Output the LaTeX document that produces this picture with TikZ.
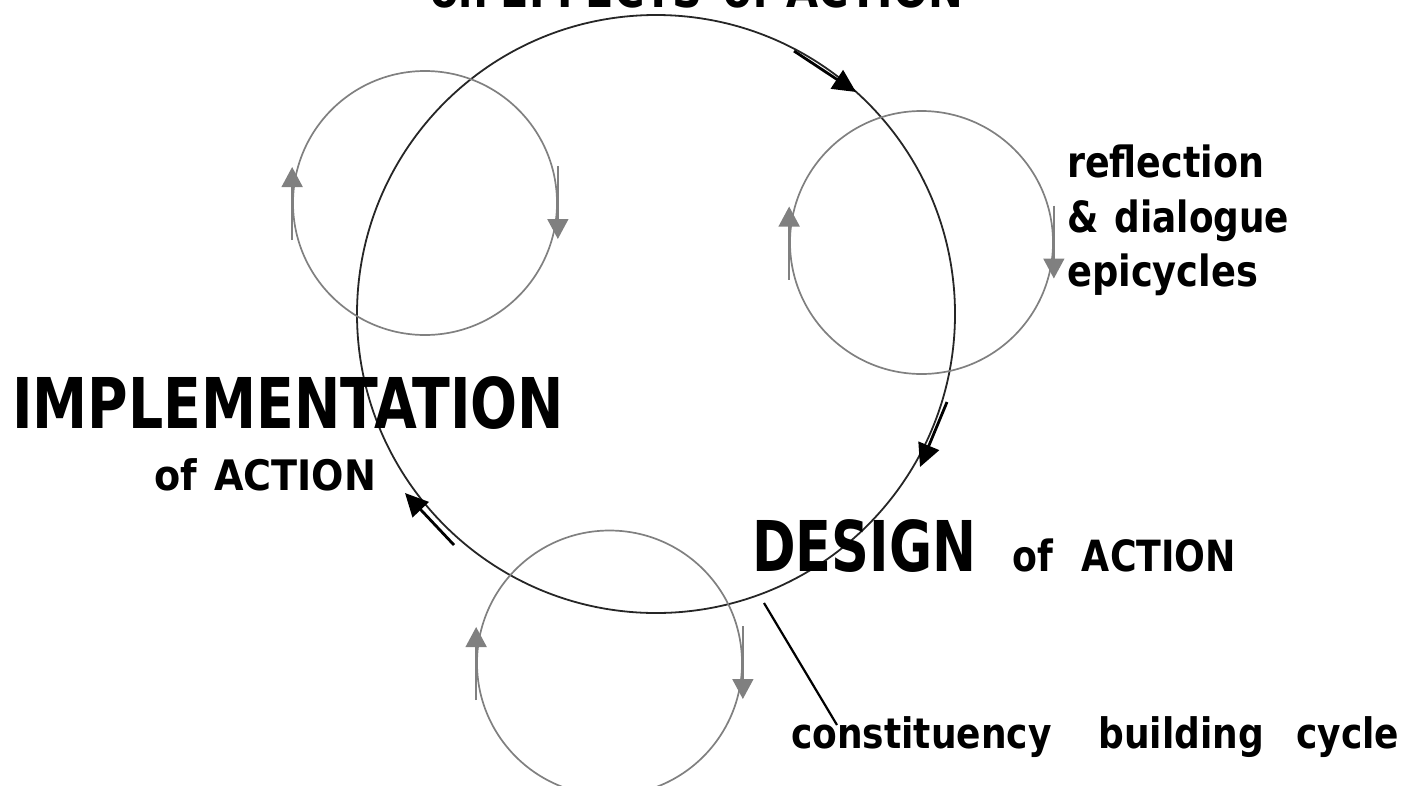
\documentclass[tikz,border=0pt]{standalone}
\usepackage{graphicx}
\usepackage{fontspec}
\setmainfont{DejaVu Sans}
\usetikzlibrary{arrows.meta,calc}

% label set at a given size and squeezed to a given width, keeping its height
\newcommand{\fitlabel}[3]{\fontsize{#1}{#1}\selectfont\bfseries\resizebox{#2pt}{\height}{#3}}

\begin{document}
\begin{tikzpicture}[x=1pt,y=-1pt,
  ring/.style={circle, draw=black!85, line width=1.8pt, inner sep=0pt, minimum size=#1},
  epi/.style={circle, draw=black!50, line width=1.7pt, inner sep=0pt, minimum size=#1},
  greyarrow/.style={draw=black!50, line width=1.7pt, -{Triangle[length=20pt,width=21pt]}},
  flowarrow/.style={draw=black, line width=2.8pt, -{Triangle[length=23pt,width=22pt]}},
  lbl/.style={anchor=base west, inner sep=0pt, text=black}
]
\useasboundingbox (0,0) rectangle (1420,785);
\clip (0,0) rectangle (1420,785);

% main cycle
\node[ring=598pt] (main) at (656,314) {};

% reflection and dialogue epicycles
\node[epi=264pt] (epiA) at (425,203) {};
\node[epi=263pt] (epiB) at (921.5,242.5) {};
\node[epi=265pt] (epiC) at (609.5,663) {};

\foreach \e in {epiA,epiB,epiC}{
  \draw[greyarrow] ($(\e.west)+(0,37)$) -- ($(\e.west)+(0,-36)$);
  \draw[greyarrow] ($(\e.east)+(0,-37)$) -- ($(\e.east)+(0,36)$);
}

% direction of the main cycle
\coordinate (f1s) at (794,51);   \coordinate (f1e) at (856,92);
\coordinate (f2s) at (947,402);  \coordinate (f2e) at (920,467);
\coordinate (f3s) at (454,545);  \coordinate (f3e) at (405,493);
\draw[flowarrow] (f1s) -- (f1e);
\draw[flowarrow] (f2s) -- (f2e);
\draw[flowarrow] (f3s) -- (f3e);

% labels
\node[lbl] (effects) at (430,7) {\fitlabel{50}{533}{on\hspace{0.3em}EFFECTS\hspace{0.5em}of\hspace{0.4em}ACTION}};
\node[lbl] (impl) at (12,428) {\fitlabel{70}{552}{IMPLEMENTATION}};
\node[lbl] (implof) at (154,490) {\fitlabel{42}{222}{of\hspace{0.45em}ACTION}};
\node[lbl] (design) at (752,571) {\fitlabel{70}{224}{DESIGN}};
\node[lbl] (designof) at (1012,571) {\fitlabel{43}{224}{of\hspace{0.8em}ACTION}};
\node[lbl] (refl1) at (1067,177) {\fitlabel{43}{197}{reflection}};
\node[lbl] (refl2) at (1067,232) {\fitlabel{43}{222}{\&\hspace{0.45em}dialogue}};
\node[lbl] (refl3) at (1067,286) {\fitlabel{43}{191}{epicycles}};
\node[lbl] (constit) at (791,748) {\fitlabel{42}{608}{constituency\hspace{1.3em}building\hspace{0.9em}cycle}};

% pointer from the main cycle to its caption
\coordinate (cpt) at (764,603);
\coordinate (cend) at (837,725);
\draw[line width=2.2pt] (cpt) -- (cend);
\end{tikzpicture}
\end{document}
